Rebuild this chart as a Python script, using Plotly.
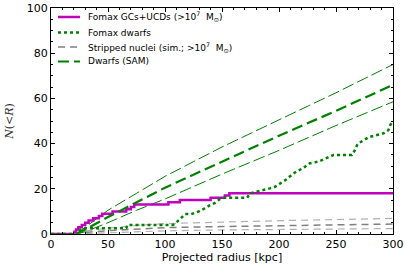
import plotly.graph_objects as go

# Fomax GCs+UCDs cumulative counts (step function)
gc_r = [0, 20.5, 22, 24, 27, 30, 33, 37, 42, 45, 54, 66, 70, 73, 103, 113, 140, 152.5, 156.5, 300]
gc_n = [0, 1, 2, 3, 4, 5, 6, 7, 8, 9, 10, 11, 12, 13, 14, 15, 16, 17, 18, 18]

# Fomax dwarfs
dw_r = [0, 24, 25, 26, 28, 66, 67, 107, 112.5, 117.5, 123, 130.7, 135, 139.5, 144, 148, 152, 172,
        174.6, 181, 186, 192, 196.5, 201, 206, 211, 215, 221, 227, 234.5, 242, 248, 264,
        266.7, 268.8, 274, 278.5, 286, 292, 296, 297.6, 300]
dw_n = [0, 0, 1, 2, 2.5, 2.5, 4, 4, 6.2, 8.8, 8.8, 10.2, 11.4, 12.8, 13.8, 15.4, 16, 16,
        18, 18.7, 19.5, 20.2, 20.9, 22.4, 24, 26.1, 27.6, 29.1, 31.3, 32, 33.5, 35, 35,
        37.2, 39.8, 41.6, 42.8, 43.8, 44.6, 46, 48.2, 50]

# Stripped nuclei (simulation)
sn_r = [20, 30, 50, 75, 100, 150, 200, 250, 300]
sn_hi = [0, 1.3, 2.6, 3.8, 4.6, 5.4, 5.9, 6.4, 6.9]
sn_mid = [0, 0.7, 1.5, 2.2, 2.8, 3.3, 3.6, 4.0, 4.4]
sn_lo = [0, 0.2, 0.5, 1.0, 1.4, 1.8, 2.0, 2.2, 2.4]

# Dwarfs (SAM)
sam_r = [22, 30, 50, 75, 100, 150, 200, 250, 300]
sam_hi = [0, 3, 10.5, 18, 25.5, 38.5, 50.5, 62.5, 75]
sam_mid = [0, 2, 7.5, 14, 20.5, 32, 43.5, 54.5, 66]
sam_lo = [0, 1, 5, 10.5, 15.5, 26.5, 37, 48, 58.5]

legend_labels = [
    "Fomax GCs+UCDs (&gt;10<sup>7</sup>  M<sub>⊙</sub>)",
    "Fomax dwarfs",
    "Stripped nuclei (sim.; &gt;10<sup>7</sup>  M<sub>⊙</sub>)",
    "Dwarfs (SAM)",
]

MAG = "#bf00bf"
GRN = "#008000"

styles = [
    dict(color=MAG, width=2.5),
    dict(color=GRN, width=2.5, dash="dot"),
    dict(color="#808080", width=1.5, dash="7px,5px"),
    dict(color=GRN, width=2.2, dash="11px,5px"),
]

fig = go.Figure()

# SAM band
fig.add_trace(go.Scatter(x=sam_r, y=sam_hi, mode="lines", showlegend=False,
                         line=dict(color=GRN, width=1, dash="12px,4px")))
fig.add_trace(go.Scatter(x=sam_r, y=sam_lo, mode="lines", showlegend=False,
                         line=dict(color=GRN, width=1, dash="12px,4px")))
# stripped nuclei band
fig.add_trace(go.Scatter(x=sn_r, y=sn_hi, mode="lines", showlegend=False,
                         line=dict(color="#b0b0b0", width=1.2, dash="7px,5px")))
fig.add_trace(go.Scatter(x=sn_r, y=sn_lo, mode="lines", showlegend=False,
                         line=dict(color="#b0b0b0", width=1.2, dash="7px,5px")))

fig.add_trace(go.Scatter(x=gc_r, y=gc_n, mode="lines", line_shape="hv", showlegend=False,
                         name=legend_labels[0], line=styles[0]))
fig.add_trace(go.Scatter(x=dw_r, y=dw_n, mode="lines", showlegend=False,
                         name=legend_labels[1], line=styles[1]))
fig.add_trace(go.Scatter(x=sn_r, y=sn_mid, mode="lines", showlegend=False,
                         name=legend_labels[2], line=styles[2]))
fig.add_trace(go.Scatter(x=sam_r, y=sam_mid, mode="lines", showlegend=False,
                         name=legend_labels[3], line=styles[3]))

# target plot area in screen pixels (body margin removed below)
W, H = 407, 271
L, R, T, B = 51, 393, 8, 234

def px(xp):
    return (xp - L) / (R - L)

def py(yp):
    return (B - yp) / (B - T)

rows_y = [17, 32.5, 47, 61.5]
for lab, st, yy in zip(legend_labels, styles, rows_y):
    fig.add_shape(type="line", xref="paper", yref="paper",
                  x0=px(58), x1=px(80), y0=py(yy), y1=py(yy), line=st)
    fig.add_annotation(xref="paper", yref="paper", x=px(86), y=py(yy),
                       xanchor="left", yanchor="middle", showarrow=False, text=lab,
                       font=dict(family="DejaVu Sans", size=9, color="black"))

axis_common = dict(showgrid=False, zeroline=False, showline=True, linecolor="black",
                   linewidth=1, mirror="allticks", ticks="inside", ticklen=4,
                   automargin=False,
                   tickcolor="black", tickfont=dict(family="DejaVu Sans", size=11, color="black"))

fig.update_xaxes(range=[0, 300], tickvals=[0, 50, 100, 150, 200, 250, 300],
                 minor=dict(dtick=10, ticks="inside", ticklen=2, tickcolor="black"),
                 title=dict(text="Projected radius [kpc]", standoff=3,
                            font=dict(family="DejaVu Sans", size=11, color="black")),
                 **axis_common)
fig.update_yaxes(range=[0, 100], tickvals=[0, 20, 40, 60, 80, 100],
                 minor=dict(dtick=5, ticks="inside", ticklen=2, tickcolor="black"),
                 title=dict(text="<i>N</i>(&lt;<i>R</i>)", standoff=10,
                            font=dict(family="DejaVu Serif", size=11, color="#333333")),
                 **axis_common)

fig.update_layout(
    width=W, height=H,
    margin=dict(l=L, r=W - R, t=T, b=H - B, pad=0),
    plot_bgcolor="white", paper_bgcolor="white",
    showlegend=False,
)

fig.write_html("out.html", config={"displayModeBar": False},
               post_script="document.body.style.margin='0';")
